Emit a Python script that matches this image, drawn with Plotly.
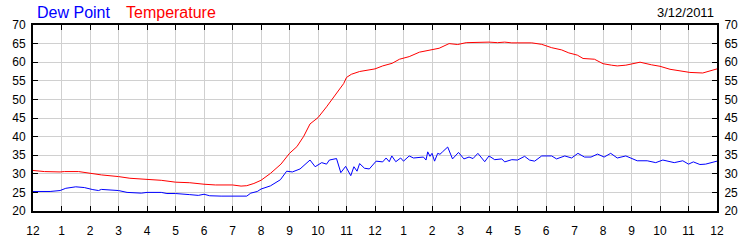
import plotly.graph_objects as go

# ---- data (hours after midnight, 3/12/2011) ----
temp_hours = [0.0, 0.4, 0.95, 1.1, 1.6, 2.0, 2.4, 3.0, 3.4, 4.0, 4.5, 5.0, 5.5, 6.0, 6.4, 7.0, 7.3, 7.5,
              7.75, 8.0, 8.33, 8.7, 9.0, 9.26, 9.5, 9.72, 10.0, 10.3, 10.5, 10.7, 10.9, 11.0, 11.17,
              11.46, 11.7, 12.0, 12.27, 12.6, 12.86, 13.2, 13.56, 14.0, 14.25, 14.6, 14.9, 15.2,
              15.65, 16.0, 16.3, 16.55, 16.8, 17.5, 17.85, 18.2, 18.55, 18.8, 19.1, 19.3, 19.7, 20.0,
              20.3, 20.5, 20.8, 21.0, 21.3, 21.7, 22.0, 22.35, 22.7, 23.05, 23.5, 23.8, 24.0]
temp_values = [30.9, 30.6, 30.5, 30.6, 30.6, 30.1, 29.7, 29.25, 28.8, 28.5, 28.25, 27.75, 27.6, 27.2,
               27.0, 27.0, 26.7, 26.8, 27.4, 28.25, 30.1, 32.6, 35.5, 37.3, 40.1, 43.4, 45.1, 48.0,
               50.1, 52.2, 54.25, 55.9, 56.75, 57.5, 57.8, 58.2, 59.0, 59.7, 60.8, 61.5, 62.7, 63.5,
               63.75, 65.0, 64.75, 65.25, 65.4, 65.4, 65.25, 65.4, 65.2, 65.2, 64.8, 63.9, 63.3, 62.5,
               61.9, 61.0, 60.8, 59.6, 59.2, 59.0, 59.2, 59.6, 60.0, 59.3, 58.9, 58.1, 57.7, 57.25,
               57.1, 57.7, 58.2]

dew_hours = [0.0, 0.6, 0.95, 1.15, 1.5, 1.8, 2.1, 2.3, 2.4, 3.0, 3.3, 3.8, 4.0, 4.5, 4.7, 5.0, 5.5,
             5.8, 6.0, 6.2, 6.6, 7.0, 7.5, 7.64, 7.87, 8.0, 8.33, 8.68, 8.9, 9.1, 9.37, 9.72, 9.9,
             10.13, 10.3, 10.4, 10.65, 10.8, 10.97, 11.15, 11.26, 11.37, 11.46, 11.63, 11.8, 12.04,
             12.27, 12.39, 12.5, 12.59, 12.73, 12.9, 13.0, 13.2, 13.35, 13.7, 13.79, 13.85, 13.93,
             14.0, 14.09, 14.2, 14.28, 14.37, 14.55, 14.72, 14.93, 15.12, 15.3, 15.44, 15.61, 15.85,
             16.0, 16.2, 16.45, 16.55, 16.8, 17.0, 17.25, 17.42, 17.6, 17.85, 18.2, 18.37, 18.66,
             18.9, 19.12, 19.35, 19.58, 19.81, 20.04, 20.27, 20.5, 20.8, 21.0, 21.2, 21.55, 21.85,
             22.1, 22.5, 22.8, 23.0, 23.17, 23.4, 23.6, 24.0]
dew_values = [25.25, 25.25, 25.5, 26.1, 26.5, 26.3, 25.75, 25.5, 25.8, 25.5, 25.0, 24.8, 25.0, 25.0,
              24.7, 24.7, 24.4, 24.2, 24.5, 24.1, 24.0, 24.0, 24.0, 24.8, 25.25, 25.9, 26.75, 28.4,
              30.7, 30.5, 31.3, 33.7, 31.9, 33.0, 32.6, 33.7, 34.1, 30.3, 32.0, 29.5, 31.9, 30.7,
              32.75, 31.5, 31.3, 33.4, 33.2, 34.25, 33.25, 34.8, 33.25, 34.25, 33.4, 34.8, 34.25,
              34.5, 33.7, 35.9, 34.7, 35.5, 33.4, 35.5, 35.25, 35.9, 37.2, 34.0, 35.75, 34.0, 34.5,
              34.1, 35.5, 33.25, 34.8, 33.8, 34.0, 33.2, 33.8, 33.7, 34.7, 33.7, 33.4, 34.8, 34.8,
              34.0, 34.8, 34.25, 35.5, 34.5, 34.5, 35.3, 34.5, 35.5, 34.25, 34.8, 34.25, 33.5, 33.5,
              33.0, 33.7, 33.0, 33.5, 32.6, 33.2, 32.5, 32.6, 33.4]

hour_ticks = list(range(0, 25))
hour_labels = ["12", "1", "2", "3", "4", "5", "6", "7", "8", "9", "10", "11",
               "12", "1", "2", "3", "4", "5", "6", "7", "8", "9", "10", "11", "12"]
y_ticks = [20, 25, 30, 35, 40, 45, 50, 55, 60, 65, 70]

FONT = "Liberation Sans, Arial, sans-serif"

fig = go.Figure()
fig.add_trace(go.Scatter(x=temp_hours, y=temp_values, mode="lines", name="Temperature",
                         line=dict(color="#ff0000", width=1)))
fig.add_trace(go.Scatter(x=dew_hours, y=dew_values, mode="lines", name="Dew Point",
                         line=dict(color="#0000ff", width=1)))
# invisible trace to anchor the right-hand axis
fig.add_trace(go.Scatter(x=[0], y=[20], yaxis="y2", mode="markers",
                         marker=dict(opacity=0), showlegend=False, hoverinfo="skip"))

axis_common = dict(showline=True, linecolor="black", linewidth=2, ticks="inside",
                   ticklen=5, tickcolor="black", tickwidth=1,
                   tickfont=dict(family=FONT, size=12, color="black"), zeroline=False)

fig.update_layout(
    width=750, height=250,
    margin=dict(l=31, r=30, t=25, b=25),
    paper_bgcolor="white", plot_bgcolor="white",
    showlegend=False,
    xaxis=dict(range=[0, 24], tickvals=hour_ticks, ticktext=hour_labels, mirror="ticks",
               showgrid=True, gridcolor="#d0d0d0", gridwidth=1, ticklabelstandoff=8,
               **axis_common),
    yaxis=dict(range=[20, 70], tickvals=y_ticks, mirror="ticks",
               showgrid=True, gridcolor="#d0d0d0", gridwidth=1, ticklabelstandoff=3,
               **axis_common),
    yaxis2=dict(range=[20, 70], tickvals=y_ticks, overlaying="y", side="right",
                showgrid=False, ticklabelstandoff=3, **axis_common),
    annotations=[
        dict(text="Dew Point", x=(33 - 31) / 689, y=1.065, xref="paper", yref="paper",
             xanchor="left", yanchor="middle", showarrow=False,
             font=dict(family=FONT, size=16, color="#0000ff")),
        dict(text="Temperature", x=(123 - 31) / 689, y=1.065, xref="paper", yref="paper",
             xanchor="left", yanchor="middle", showarrow=False,
             font=dict(family=FONT, size=16, color="#ff0000")),
        dict(text="3/12/2011", x=(719 - 31) / 689, y=1.065, xref="paper", yref="paper",
             xanchor="right", yanchor="middle", showarrow=False,
             font=dict(family=FONT, size=13, color="black")),
    ],
)

fig.write_html("out.html")
